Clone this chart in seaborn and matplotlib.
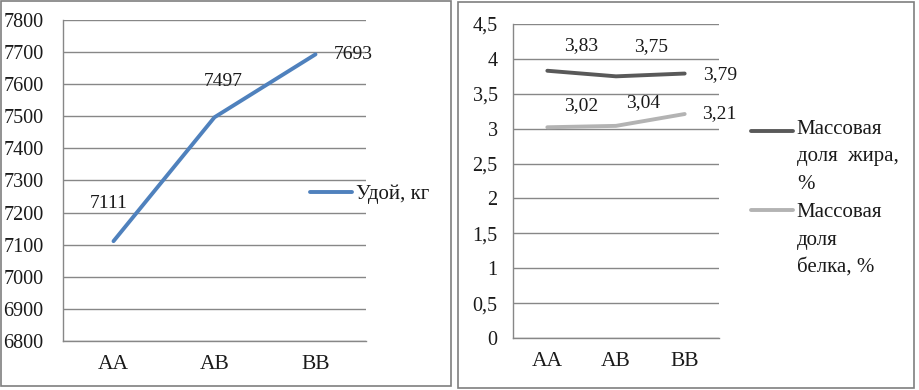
import numpy as np
import pandas as pd
import matplotlib
matplotlib.use("Agg")
import matplotlib.pyplot as plt
from matplotlib.patches import Rectangle
from matplotlib.legend_handler import HandlerLine2D
import seaborn as sns

# ---- data ----
genotypes = ["AA", "AB", "BB"]
milk_yield = [7111, 7497, 7693]
fat_share = [3.83, 3.75, 3.79]
protein_share = [3.02, 3.04, 3.21]
fat_labels = ["3,83", "3,75", "3,79"]
protein_labels = ["3,02", "3,04", "3,21"]
left_yticks = [6800, 6900, 7000, 7100, 7200, 7300, 7400, 7500, 7600, 7700, 7800]
right_yticks = [0, 0.5, 1, 1.5, 2, 2.5, 3, 3.5, 4, 4.5]
right_yticklabels = ["0", "0,5", "1", "1,5", "2", "2,5", "3", "3,5", "4", "4,5"]
milk_name = "Удой, кг"
fat_name = "Массовая\nдоля  жира,\n%"
protein_name = "Массовая\nдоля\nбелка, %"

# ---- style ----
sns.set_style("white")
plt.rcParams["font.family"] = ["Liberation Serif", "DejaVu Serif"]
GRID = "#878787"
BLUE = "#4f81bd"
DARK = "#595959"
LIGHT = "#b3b3b3"
FS = 14.5
TXT = "#1a1a1a"

W, H = 920, 390
fig = plt.figure(figsize=(W / 100, H / 100), dpi=100)
fig.patch.set_facecolor("white")


def fx(px):
    return px / W


def fy(py):
    return 1 - py / H


# panel borders
fig.add_artist(Rectangle((fx(1), fy(386)), fx(451) - fx(1), fy(1) - fy(386),
                         transform=fig.transFigure, fill=False, ec="#7f7f7f", lw=1.2))
fig.add_artist(Rectangle((fx(458), fy(388)), fx(914) - fx(458), fy(2) - fy(388),
                         transform=fig.transFigure, fill=False, ec="#7f7f7f", lw=1.2))


def style_axes(ax, yticks, ylabels, ylim, ypad):
    ax.set_xlim(-0.5, 2.5)
    ax.set_ylim(*ylim)
    ax.set_yticks(yticks)
    ax.set_yticklabels(ylabels)
    ax.set_xticks([0, 1, 2])
    ax.set_xticklabels(genotypes)
    ax.set_xticks([-0.5, 0.5, 1.5, 2.5], minor=True)
    ax.tick_params(axis="x", which="major", length=0, pad=10, labelsize=FS + 1,
                   labelcolor=TXT)
    ax.tick_params(axis="x", which="minor", length=4, width=1, color=GRID, direction="out")
    ax.tick_params(axis="y", length=3, width=1, color=GRID, direction="out",
                   pad=ypad, labelsize=FS, labelcolor=TXT)
    ax.grid(axis="y", color=GRID, lw=1)
    ax.grid(axis="x", visible=False)
    for s in ["top", "right"]:
        ax.spines[s].set_visible(False)
    for s in ["left", "bottom"]:
        ax.spines[s].set_color(GRID)
        ax.spines[s].set_linewidth(1)
    ax.set_xlabel("")
    ax.set_ylabel("")
    ax.set_axisbelow(True)


# ---- left chart ----
axL = fig.add_axes([fx(63), fy(341), fx(366) - fx(63), fy(20) - fy(341)])
dfL = pd.DataFrame({"g": genotypes, "v": milk_yield})
sns.lineplot(data=dfL, x="g", y="v", ax=axL, color=BLUE, lw=2.8, label=milk_name,
             sort=False)
style_axes(axL, left_yticks, [str(t) for t in left_yticks], (6800, 7800), 11)
left_offsets = [(-5, 38), (9, 36), (38, 0)]
for i, (g, v) in enumerate(zip(genotypes, milk_yield)):
    axL.annotate(str(v), (i, v), xytext=left_offsets[i], textcoords="offset pixels",
                 ha="center", va="center", fontsize=FS - 0.5, color=TXT)
legL = axL.legend(loc="center left", bbox_to_anchor=(fx(310), fy(194)),
                  bbox_transform=fig.transFigure, frameon=False, fontsize=FS + 0.5,
                  handlelength=2.0, handletextpad=0.2, borderpad=0, borderaxespad=0)
for t in legL.get_texts():
    t.set_color(TXT)

# ---- right chart ----
axR = fig.add_axes([fx(513), fy(338), fx(719) - fx(513), fy(24) - fy(338)])
dfR = pd.DataFrame({
    "g": genotypes * 2,
    "v": fat_share + protein_share,
    "s": [fat_name] * 3 + [protein_name] * 3,
})
sns.lineplot(data=dfR, x="g", y="v", hue="s", palette=[DARK, LIGHT], ax=axR,
             lw=2.8, sort=False)
style_axes(axR, right_yticks, right_yticklabels, (0, 4.5), 8)

fat_offsets = [(34, 25), (35, 30), (35, -1)]
prot_offsets = [(34, 22), (27, 23), (35, 0)]
for i in range(3):
    axR.annotate(fat_labels[i], (i, fat_share[i]), xytext=fat_offsets[i],
                 textcoords="offset pixels", ha="center", va="center",
                 fontsize=FS - 0.5, color=TXT)
    axR.annotate(protein_labels[i], (i, protein_share[i]), xytext=prot_offsets[i],
                 textcoords="offset pixels", ha="center", va="center",
                 fontsize=FS - 0.5, color=TXT)


class TopLineHandler(HandlerLine2D):
    def __init__(self, shift, **kw):
        super().__init__(**kw)
        self.shift = shift

    def create_artists(self, legend, orig_handle, xdescent, ydescent, width,
                       height, fontsize, trans):
        arts = super().create_artists(legend, orig_handle, xdescent, ydescent,
                                      width, height, fontsize, trans)
        for a in arts:
            a.set_ydata(np.asarray(a.get_ydata()) + self.shift)
        return arts


handles, labels = axR.get_legend_handles_labels()
shifts = [18.5, 21.5]
legR = axR.legend(handles, labels, loc="upper left",
                  bbox_to_anchor=(fx(751), fy(120)), bbox_transform=fig.transFigure,
                  frameon=False, fontsize=FS + 0.5, handlelength=2.0,
                  handletextpad=0.2, borderpad=0, borderaxespad=0, labelspacing=0.45,
                  handler_map={h: TopLineHandler(s) for h, s in zip(handles, shifts)})
for t in legR.get_texts():
    t.set_linespacing(1.6)
    t.set_color(TXT)

fig.savefig("out.png", dpi=100, facecolor="white")
